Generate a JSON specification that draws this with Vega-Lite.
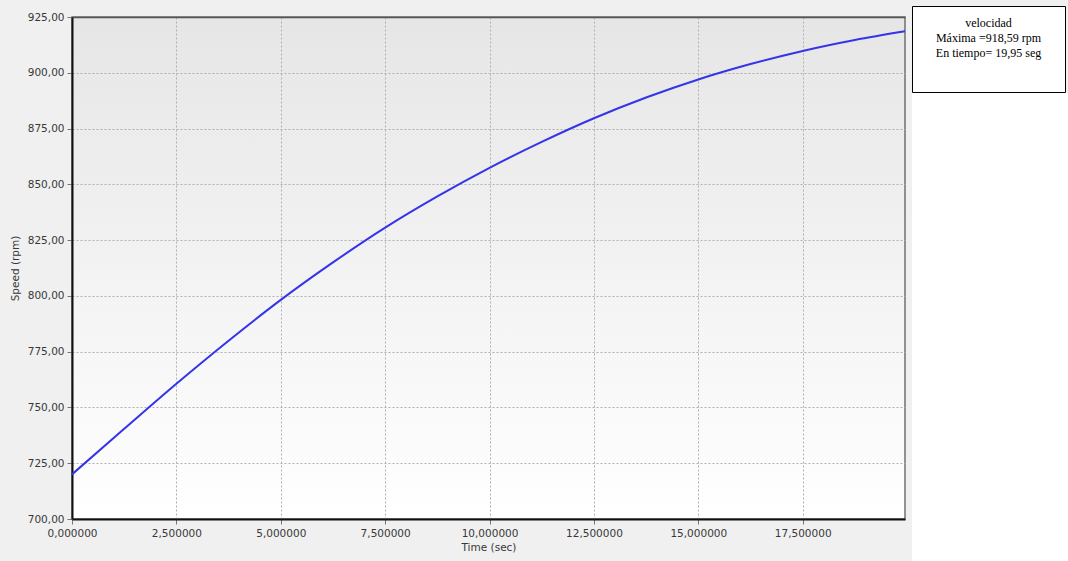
{
  "$schema": "https://vega.github.io/schema/vega-lite/v6.json",
  "background": "#f0f0f0",
  "padding": {"left": 9, "top": 5, "right": 0, "bottom": 0},
  "spacing": 1,
  "hconcat": [
    {
      "spacing": 4,
      "vconcat": [
        {
          "width": 833,
          "height": 1,
          "data": {"values": []},
          "mark": "point",
          "view": {"stroke": null, "fill": null}
        },
        {
          "width": 833,
          "height": 502,
          "view": {
            "fill": {
              "gradient": "linear",
              "x1": 0, "y1": 0, "x2": 0, "y2": 1,
              "stops": [
                {"offset": 0, "color": "#e6e6e6"},
                {"offset": 1, "color": "#ffffff"}
              ]
            },
            "stroke": "#707070",
            "strokeWidth": 1.5
          },
          "data": {
            "values": [
              {"t": 0, "v": 720.0},
              {"t": 1.25, "v": 740.4},
              {"t": 2.5, "v": 760.6},
              {"t": 3.75, "v": 779.9},
              {"t": 5, "v": 798.2},
              {"t": 6.25, "v": 815.0},
              {"t": 7.5, "v": 830.6},
              {"t": 8.75, "v": 844.6},
              {"t": 10, "v": 857.4},
              {"t": 11.25, "v": 869.0},
              {"t": 12.5, "v": 879.6},
              {"t": 13.75, "v": 888.9},
              {"t": 15, "v": 897.0},
              {"t": 16.25, "v": 903.9},
              {"t": 17.5, "v": 909.8},
              {"t": 18.75, "v": 914.7},
              {"t": 19.95, "v": 918.59}
            ]
          },
          "layer": [
            {
              "mark": {"type": "line", "color": "#3434e8", "strokeWidth": 2, "interpolate": "monotone"},
              "encoding": {
                "x": {
                  "field": "t",
                  "type": "quantitative",
                  "scale": {"domain": [0, 19.95], "nice": false, "zero": false},
                  "axis": {
                    "title": "Time (sec)",
                    "values": [0, 2.5, 5, 7.5, 10, 12.5, 15, 17.5],
                    "labelExpr": "replace(format(datum.value, '.6f'), '.', ',')",
                    "grid": true,
                    "domainColor": "#111111",
                    "domainWidth": 2,
                    "labelPadding": 4,
                    "titlePadding": 4
                  }
                },
                "y": {
                  "field": "v",
                  "type": "quantitative",
                  "scale": {"domain": [700, 925], "nice": false, "zero": false},
                  "axis": {
                    "title": "Speed (rpm)",
                    "values": [700, 725, 750, 775, 800, 825, 850, 875, 900, 925],
                    "labelExpr": "replace(format(datum.value, '.2f'), '.', ',')",
                    "grid": true,
                    "domainColor": "#111111",
                    "domainWidth": 2,
                    "labelPadding": 3,
                    "titlePadding": 7
                  }
                }
              }
            },
            {
              "mark": {"type": "line", "strokeOpacity": 0, "interpolate": "monotone"},
              "encoding": {
                "x": {
                  "field": "t",
                  "type": "quantitative",
                  "axis": {
                    "orient": "top",
                    "title": null,
                    "labels": false,
                    "ticks": false,
                    "grid": false,
                    "domainColor": "#555555",
                    "domainWidth": 1.5
                  }
                },
                "y": {"field": "v", "type": "quantitative"}
              }
            }
          ],
          "resolve": {"axis": {"x": "independent"}}
        }
      ]
    },
    {
      "spacing": 0,
      "vconcat": [
        {
          "width": 153,
          "height": 86,
          "view": {"fill": "#ffffff", "stroke": "#000000", "strokeWidth": 1},
          "data": {
            "values": [
              {"nota": "velocidad\nMáxima =918,59 rpm\nEn tiempo= 19,95 seg"}
            ]
          },
          "mark": {
            "type": "text",
            "lineBreak": "\n",
            "font": "Liberation Serif",
            "fontSize": 12,
            "lineHeight": 15,
            "align": "center",
            "baseline": "top",
            "dy": -31,
            "color": "#000000"
          },
          "encoding": {"text": {"field": "nota", "type": "nominal"}}
        },
        {
          "width": 156,
          "height": 470,
          "data": {"values": []},
          "mark": "point",
          "view": {"stroke": null, "fill": "#ffffff"}
        }
      ]
    }
  ],
  "config": {
    "axis": {
      "labelFont": "DejaVu Sans",
      "labelFontSize": 10.5,
      "labelColor": "#383838",
      "labelFlush": false,
      "titleFont": "DejaVu Sans",
      "titleFontSize": 10.5,
      "titleFontWeight": "normal",
      "titleColor": "#383838",
      "tickColor": "#777777",
      "tickSize": 5,
      "gridColor": "#b0b0b0",
      "gridDash": [2, 2],
      "gridWidth": 1
    }
  }
}
